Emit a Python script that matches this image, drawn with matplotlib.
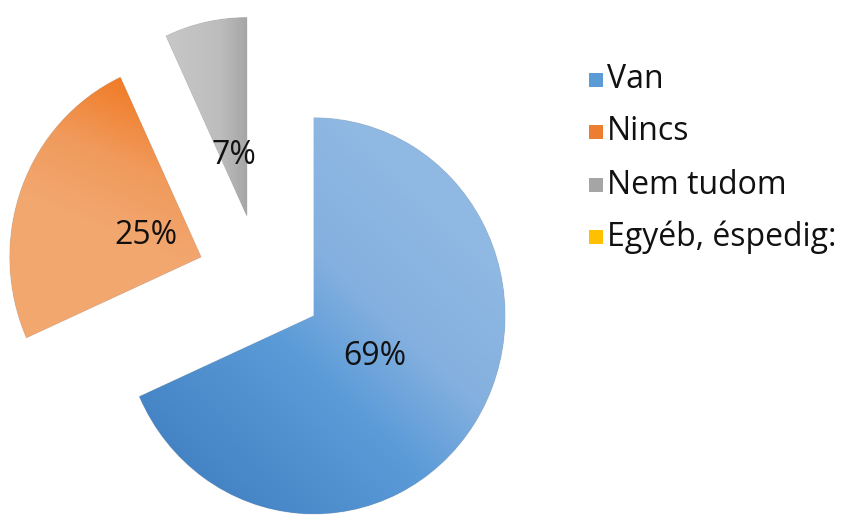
import numpy as np
import matplotlib
matplotlib.use('Agg')
import matplotlib.pyplot as plt
from matplotlib.colors import LinearSegmentedColormap
from matplotlib.patches import Rectangle

plt.rcParams['font.family'] = ['Open Sans', 'DejaVu Sans']

# survey answers (percent)
categories = ['Van', 'Nincs', 'Nem tudom', 'Egyéb, éspedig:']
values = [69, 25, 7, 0]
base_colors = ['#5b9bd5', '#ed7d31', '#a5a5a5', '#ffc000']

# gradient stops per slice: (start point, end point, colour stops) in pixel units
gradients = [
    ((190, 40), (440, 300), [(0.0, '#4383c4'), (0.45, '#5b9bd8'), (0.7, '#84b0df'), (1.0, '#8fb8e3')]),
    ((140, 440), (80, 300), [(0.0, '#f07820'), (0.55, '#f09a5c'), (1.0, '#f2a76f')]),
    ((175, 0), (250, 0), [(0.0, '#c6c6c6'), (0.6, '#bdbdbd'), (1.0, '#a3a3a3')]),
]

W, H = 856, 517
R = 198
SX = 0.965          # pie is drawn slightly narrower than tall
fig = plt.figure(figsize=(W / 100, H / 100), dpi=100)
ax = fig.add_axes([0, 0, 1, 1])

shown = [(c, v, col) for c, v, col in zip(categories, values, base_colors) if v > 0]
total = sum(v for _, v, _ in shown)

wedges, texts, autotexts = ax.pie(
    [v for _, v, _ in shown],
    colors=[col for _, _, col in shown],
    startangle=90, counterclock=False,
    radius=R, center=(270, 237),
    explode=[0.333 * R] * len(shown),
    autopct=lambda p: '{:.0f}%'.format(p * total / 100),
    pctdistance=0.31,
    wedgeprops=dict(linewidth=0.8, edgecolor=(0.55, 0.55, 0.55, 0.35)),
    textprops=dict(fontsize=23, color='#111111'),
)

# the big slice carries its label a bit further out
w0 = wedges[0]
mid = np.deg2rad((w0.theta1 + w0.theta2) / 2)
autotexts[0].set_position((w0.center[0] + 0.38 * R * np.cos(mid),
                           w0.center[1] + 0.38 * R * np.sin(mid)))

xx, yy = np.meshgrid(np.arange(W) + 0.5, np.arange(H) + 0.5)
for w, (p0, p1, stops) in zip(wedges, gradients):
    d = np.array(p1, float) - np.array(p0, float)
    t = ((xx - p0[0]) * d[0] + (yy - p0[1]) * d[1]) / (d @ d)
    t = np.clip(t, 0, 1)
    cmap = LinearSegmentedColormap.from_list('g', stops)
    im = ax.imshow(t, cmap=cmap, vmin=0, vmax=1, origin='lower',
                   extent=(0, W / SX, 0, H), zorder=1.5, interpolation='bilinear')
    im.set_clip_path(w)

for t in autotexts:
    t.set_zorder(3)

ax.set_xlim(0, W / SX)
ax.set_ylim(0, H)
ax.set_aspect('auto')
ax.axis('off')

# legend drawn by hand, one row per category
row_y = [437, 385, 332, 280]
for cat, col, y in zip(categories, base_colors, row_y):
    fig.add_artist(Rectangle((589 / W, (y - 7) / H), 14 / W, 14 / H, facecolor=col,
                             edgecolor='none', transform=fig.transFigure))
    fig.text(607 / W, y / H, cat, fontsize=23, va='center', ha='left', color='#111111')

fig.savefig('out.png', dpi=100)
